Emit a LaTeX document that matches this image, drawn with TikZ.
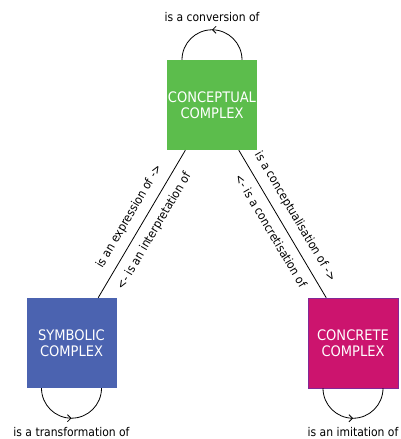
\documentclass[tikz,border=0pt]{standalone}
\usepackage{fontspec}
\setmainfont{DejaVu Sans Condensed}
\usetikzlibrary{arrows.meta,decorations.markings}

\definecolor{conceptgreen}{RGB}{92,189,76}
\definecolor{symbolblue}{RGB}{75,99,176}
\definecolor{concretemagenta}{RGB}{204,20,110}
\definecolor{concreteedge}{RGB}{130,40,150}

\tikzset{
  complex/.style={minimum width=90pt, minimum height=90pt, inner sep=0pt,
    text=white, align=center, font=\fontsize{14.5}{16}\selectfont},
  relation/.style={font=\fontsize{12}{14}\selectfont, inner sep=3.3pt},
  link/.style={draw=black, line width=0.8pt},
  selfloop/.style={draw=black, line width=0.8pt,
    postaction={decorate, decoration={markings,
      mark=at position 0.5 with {\arrow{Straight Barb[length=3.5pt,width=7pt]}}}}},
}

\begin{document}
\begin{tikzpicture}[x=1pt,y=1pt]
  \useasboundingbox (0,0) rectangle (401,439);

  % the three complexes
  \node[complex, fill=conceptgreen] (conc) at (212,334) {CONCEPTUAL\\COMPLEX};
  \node[complex, fill=symbolblue] (sym) at (71.5,96) {SYMBOLIC\\COMPLEX};
  \node[complex, fill=concretemagenta, draw=concreteedge, line width=0.5pt]
    (concr) at (353,96) {CONCRETE\\COMPLEX};

  % relations between complexes
  \draw[link] (conc) -- (sym)
    node[relation, midway, sloped, above=5pt] (expr) {is an expression of ->}
    node[relation, midway, sloped, below=5pt] (interp) {<- is an interpretation of};
  \draw[link] (conc) -- (concr)
    node[relation, midway, sloped, above=5pt] (cptl) {is a conceptualisation of ->}
    node[relation, midway, sloped, below=5pt] (cncr) {<- is a concretisation of};

  % self relations
  \coordinate (concloop) at ([xshift=30pt]conc.north);
  \draw[selfloop] (concloop) arc[start angle=0, end angle=180, radius=30pt];
  \node[relation, anchor=base] (conv) at ([yshift=38pt]conc.north) {is a conversion of};

  \coordinate (symloop) at ([xshift=-30pt]sym.south);
  \draw[selfloop] (symloop) arc[start angle=180, end angle=360, radius=30pt];
  \node[relation, anchor=base] (trans) at ([yshift=-48pt]sym.south) {is a transformation of};

  \coordinate (concrloop) at ([xshift=-30pt]concr.south);
  \draw[selfloop] (concrloop) arc[start angle=180, end angle=360, radius=30pt];
  \node[relation, anchor=base] (imit) at ([yshift=-48pt]concr.south) {is an imitation of};
\end{tikzpicture}
\end{document}
